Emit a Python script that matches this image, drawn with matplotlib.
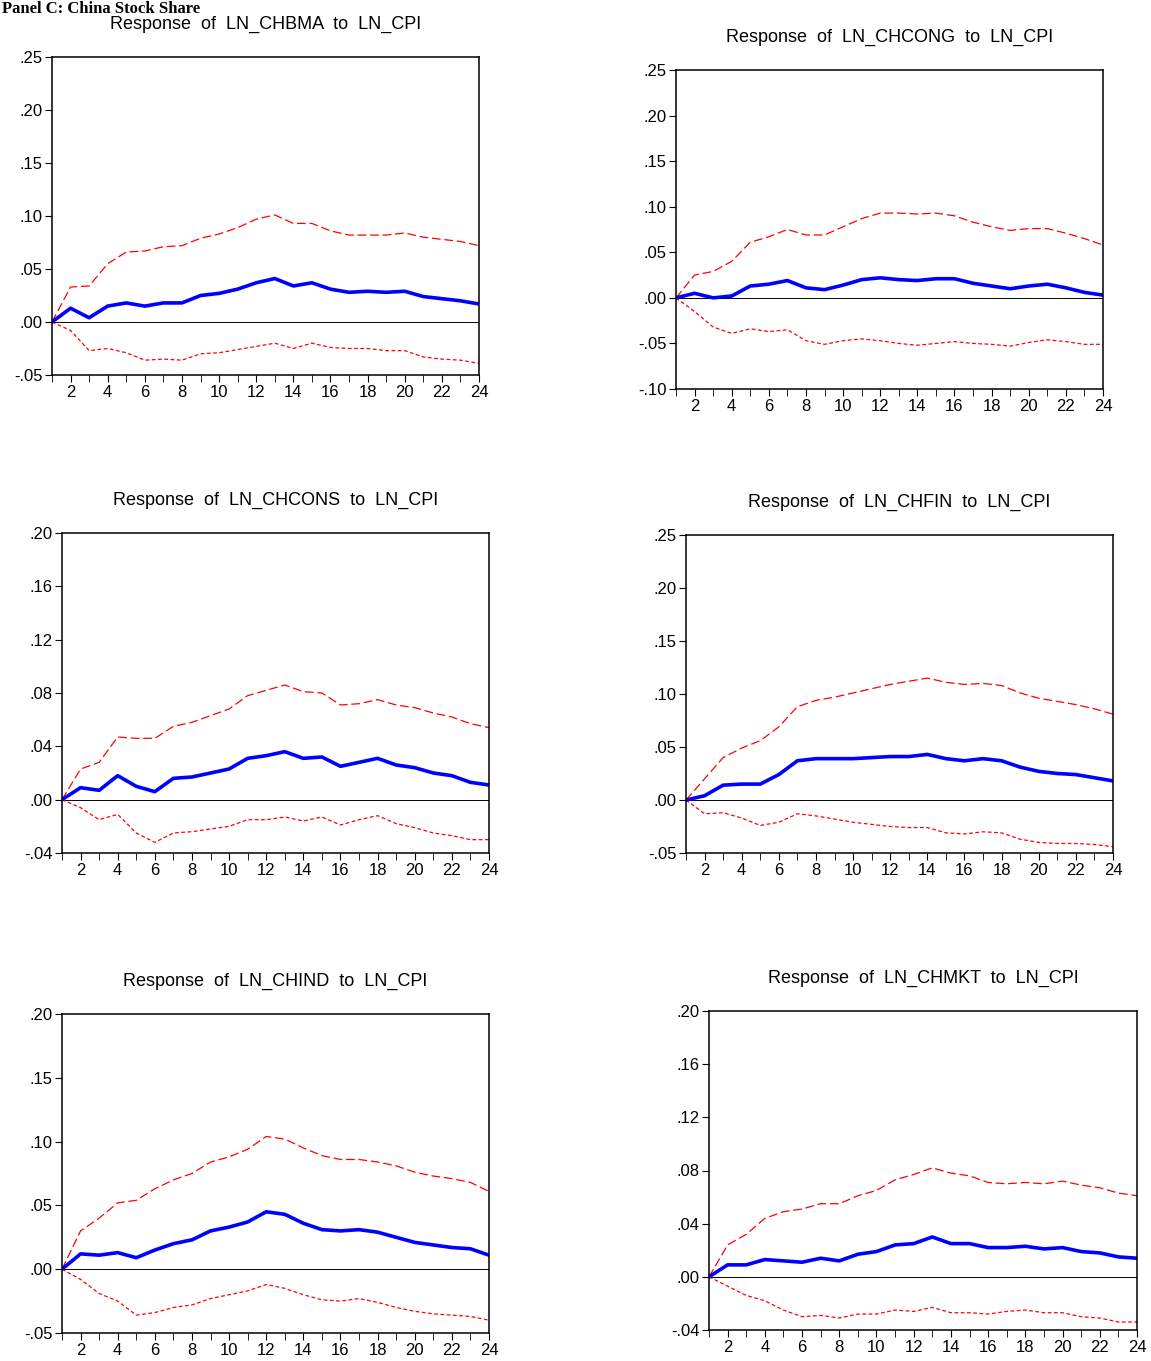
import numpy as np
import matplotlib.pyplot as plt
from matplotlib.ticker import FixedLocator, MultipleLocator

plt.rcParams['font.family'] = ['Liberation Sans', 'DejaVu Sans']

periods = np.arange(1, 25)

titles = ["Response  of  LN_CHBMA  to  LN_CPI", "Response  of  LN_CHCONG  to  LN_CPI",
          "Response  of  LN_CHCONS  to  LN_CPI", "Response  of  LN_CHFIN  to  LN_CPI",
          "Response  of  LN_CHIND  to  LN_CPI", "Response  of  LN_CHMKT  to  LN_CPI"]

bma_mid = [0, .013, .004, .015, .018, .015, .018, .018, .025, .027, .031, .037, .041, .034, .037, .031, .028, .029, .028, .029, .024, .022, .020, .017]
bma_up = [0, .033, .034, .055, .066, .067, .071, .072, .079, .083, .089, .097, .101, .093, .093, .086, .082, .082, .082, .084, .080, .078, .076, .072]
bma_lo = [0, -.008, -.027, -.025, -.029, -.036, -.035, -.036, -.030, -.029, -.026, -.023, -.020, -.025, -.020, -.024, -.025, -.025, -.027, -.027, -.033, -.035, -.036, -.039]

cong_mid = [0, .005, 0, .002, .013, .015, .019, .011, .009, .014, .020, .022, .020, .019, .021, .021, .016, .013, .010, .013, .015, .011, .006, .003]
cong_up = [0, .025, .029, .040, .061, .067, .075, .069, .069, .078, .087, .093, .093, .092, .093, .090, .083, .078, .074, .076, .076, .071, .065, .058]
cong_lo = [0, -.015, -.032, -.039, -.034, -.037, -.035, -.047, -.051, -.047, -.045, -.047, -.050, -.052, -.050, -.048, -.050, -.051, -.053, -.049, -.046, -.048, -.051, -.051]

cons_mid = [0, .009, .007, .018, .010, .006, .016, .017, .020, .023, .031, .033, .036, .031, .032, .025, .028, .031, .026, .024, .020, .018, .013, .011]
cons_up = [0, .023, .028, .047, .046, .046, .055, .058, .063, .068, .078, .082, .086, .081, .080, .071, .072, .075, .071, .069, .065, .062, .057, .054]
cons_lo = [0, -.006, -.015, -.011, -.025, -.032, -.025, -.024, -.022, -.020, -.015, -.015, -.013, -.016, -.013, -.019, -.015, -.012, -.018, -.021, -.025, -.027, -.030, -.030]

fin_mid = [0, .004, .014, .015, .015, .024, .037, .039, .039, .039, .040, .041, .041, .043, .039, .037, .039, .037, .031, .027, .025, .024, .021, .018]
fin_up = [0, .020, .040, .049, .056, .069, .088, .094, .097, .101, .105, .109, .112, .115, .111, .109, .110, .108, .101, .096, .093, .090, .086, .081]
fin_lo = [0, -.013, -.012, -.017, -.024, -.021, -.013, -.015, -.018, -.021, -.023, -.025, -.026, -.026, -.031, -.032, -.030, -.031, -.037, -.040, -.041, -.041, -.042, -.044]

ind_mid = [0, .012, .011, .013, .009, .015, .020, .023, .030, .033, .037, .045, .043, .036, .031, .030, .031, .029, .025, .021, .019, .017, .016, .011]
ind_up = [0, .030, .040, .052, .054, .063, .070, .075, .084, .088, .094, .104, .102, .095, .089, .086, .086, .084, .081, .076, .073, .071, .068, .061]
ind_lo = [0, -.008, -.019, -.025, -.036, -.034, -.030, -.028, -.023, -.020, -.017, -.012, -.015, -.020, -.024, -.025, -.023, -.026, -.030, -.033, -.035, -.036, -.037, -.040]

mkt_mid = [0, .009, .009, .013, .012, .011, .014, .012, .017, .019, .024, .025, .030, .025, .025, .022, .022, .023, .021, .022, .019, .018, .015, .014]
mkt_up = [0, .024, .032, .044, .049, .051, .055, .055, .061, .065, .073, .077, .082, .078, .076, .071, .070, .071, .070, .072, .069, .067, .063, .061]
mkt_lo = [0, -.007, -.014, -.018, -.025, -.030, -.029, -.031, -.028, -.028, -.025, -.026, -.023, -.027, -.027, -.028, -.026, -.025, -.027, -.027, -.030, -.031, -.034, -.034]

series = [(bma_mid, bma_up, bma_lo), (cong_mid, cong_up, cong_lo), (cons_mid, cons_up, cons_lo),
          (fin_mid, fin_up, fin_lo), (ind_mid, ind_up, ind_lo), (mkt_mid, mkt_up, mkt_lo)]

# y ranges and steps per panel
yranges = [(-.05, .25, .05), (-.10, .25, .05), (-.04, .20, .04),
           (-.05, .25, .05), (-.05, .20, .05), (-.04, .20, .04)]

# axes boxes in pixels: left, top, right, bottom
boxes = [(52, 57, 479, 375), (676, 70, 1103, 389), (62, 533, 489, 853),
         (686, 535, 1113, 853), (62, 1014, 489, 1333), (709, 1011, 1137, 1330)]

W, H = 1151, 1361
fig = plt.figure(figsize=(W / 100, H / 100), dpi=100)
fig.text(0.002, 0.999, "Panel C: China Stock Share", family=['Liberation Serif'], fontweight='bold',
         fontsize=12, va='top', ha='left')

def fmt(v):
    s = "%.2f" % v
    return s.replace("0.", ".")

for (l, t, r, b), title, (mid, up, lo), (y0, y1, st) in zip(boxes, titles, series, yranges):
    ax = fig.add_axes([l / W, 1 - b / H, (r - l) / W, (b - t) / H])
    ax.axhline(0, color='black', lw=0.7)
    ax.plot(periods, up, color='red', lw=0.9, dashes=(7, 3))
    ax.plot(periods, lo, color='red', lw=0.9, dashes=(3, 2))
    ax.plot(periods, mid, color='blue', lw=2.6)
    ax.set_xlim(1, 24)
    ax.set_ylim(y0, y1)
    ax.xaxis.set_major_locator(FixedLocator(np.arange(2, 25, 2)))
    ax.xaxis.set_minor_locator(MultipleLocator(1))
    yt = np.round(np.arange(y0, y1 + 1e-9, st), 2)
    ax.set_yticks(yt)
    ax.set_yticklabels([fmt(v) for v in yt])
    ax.tick_params(direction='out', labelsize=12, length=5, pad=2)
    ax.tick_params(axis='x', which='minor', length=5)
    for sp in ax.spines.values():
        sp.set_linewidth(1.1)
    ax.set_title(title, fontsize=13, pad=20)

fig.savefig("out.png", dpi=100)
